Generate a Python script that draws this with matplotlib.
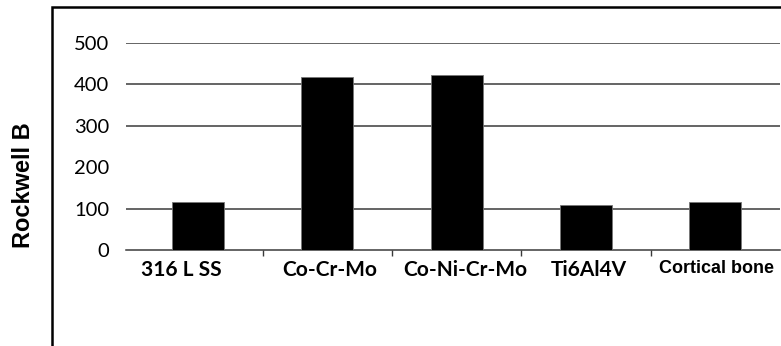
import numpy as np
import matplotlib
matplotlib.use('Agg')
import matplotlib.pyplot as plt
from matplotlib.patches import Rectangle

# 재료별 경도 값 (Rockwell B)
materials = ['316 L SS', 'Co-Cr-Mo', 'Co-Ni-Cr-Mo', 'Ti6Al4V', 'Cortical bone']
hardness = [117, 418, 422, 108, 117]
y_ticks = [0, 100, 200, 300, 400, 500]
grid_vals = [100, 300, 400, 500]   # 원본에서 200 줄은 빠져 있음

fig = plt.figure(figsize=(7.81, 3.46), dpi=100)
ax = fig.add_axes([126/781, 1-250/346, 654/781, 207/346])

x = np.arange(len(materials))
ax.bar(x, hardness, width=0.4, color='black', edgecolor='#777777', linewidth=0.6, zorder=3)

for g in grid_vals:
    ax.axhline(g, color='#3a3a3a', linewidth=1.1, zorder=1)

ax.set_xlim(-0.557, 4.5)
ax.set_ylim(0, 500)

for s in ['top', 'right', 'left']:
    ax.spines[s].set_visible(False)
ax.spines['bottom'].set_color('#3a3a3a')
ax.spines['bottom'].set_linewidth(1.1)

ax.set_yticks(y_ticks)
ax.set_yticklabels([str(v) for v in y_ticks], fontfamily='Lato', fontsize=14.5)
ax.tick_params(axis='y', length=0, pad=12)

# x 라벨은 원본처럼 조금씩 어긋나게 (픽셀 단위)
ax.set_xticks([])
ax.set_xticks(x[:-1] + 0.5, minor=True)
ax.tick_params(axis='x', which='minor', length=4, width=1, color='#3a3a3a', direction='out')
shift_px = [-17, 2, 9, 2.5, 1.5]
for i, name in enumerate(materials):
    if name == 'Cortical bone':
        fam, fs = 'Liberation Sans', 13
    else:
        fam, fs = 'Lato', 15
    ax.annotate(name, xy=(x[i], 0), xycoords=('data', 'axes fraction'),
                xytext=(shift_px[i] * 0.72, -7), textcoords='offset points',
                ha='center', va='top', fontfamily=fam, fontweight='bold', fontsize=fs)

fig.text(24/781, 1-185/346, 'Rockwell B', rotation=90, ha='center', va='center',
         fontfamily='Liberation Sans', fontweight='bold', fontsize=17)

# 바깥 테두리 (오른쪽, 아래는 잘려 있음)
fig.add_artist(Rectangle((52/781, -0.2), 2.0, 1.2 - 7/346, transform=fig.transFigure,
                         fill=False, edgecolor='black', linewidth=1.8))

plt.savefig('out.png', dpi=100)
